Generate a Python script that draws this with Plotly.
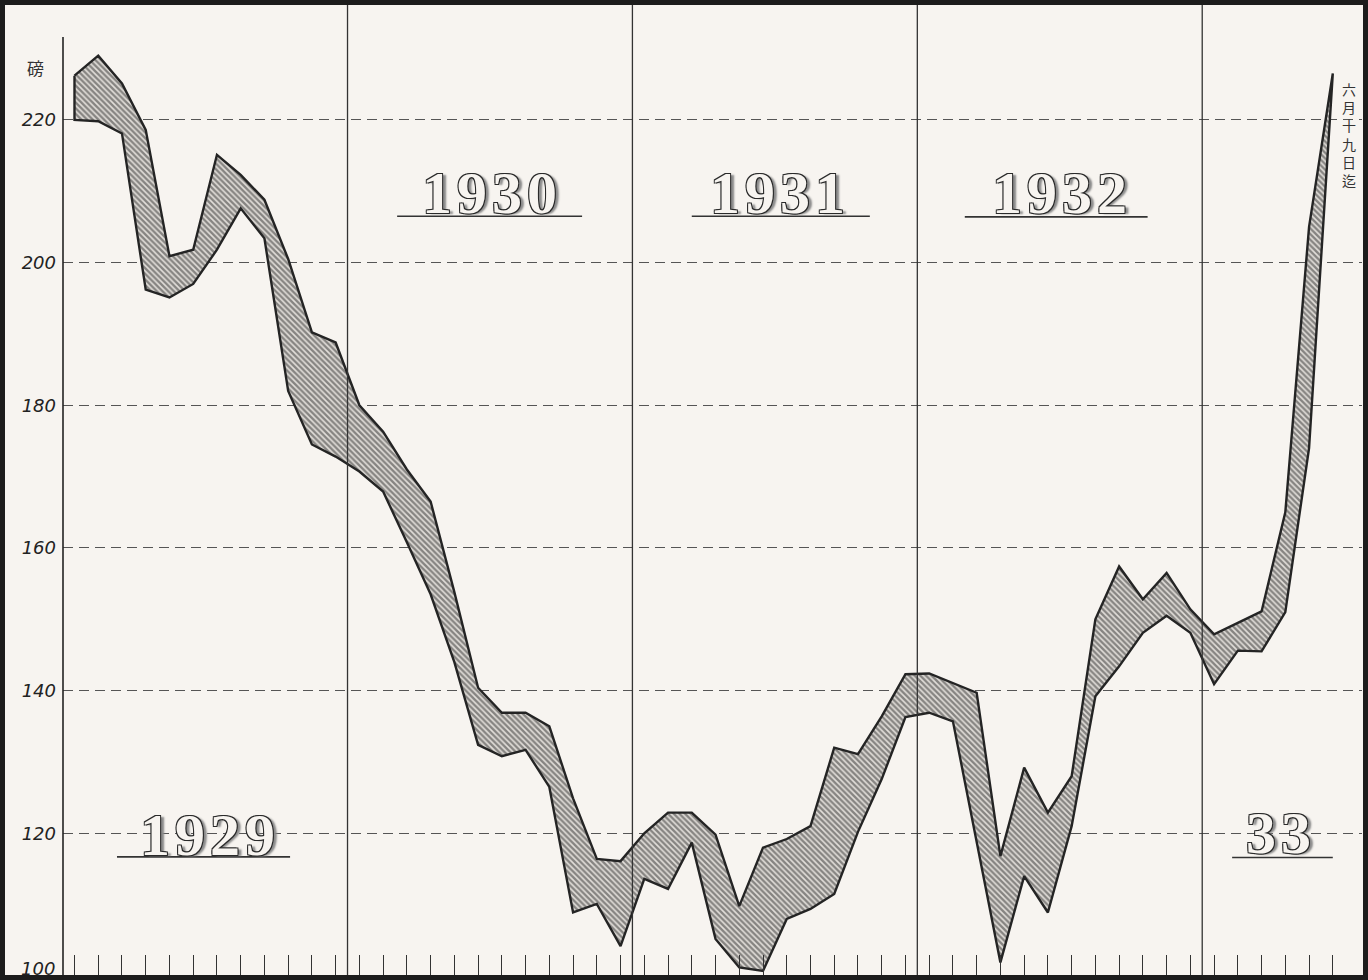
import plotly.graph_objects as go

# ---- data (monthly, Jan 1929 .. Jun 1933) ----
months = [f"{y}-{m:02d}" for y in (1929, 1930, 1931, 1932, 1933) for m in range(1, 13)][:54]

upper = [226.2, 229.0, 225.1, 218.6, 200.9, 201.8, 215.1, 212.3, 208.8, 200.5,
         190.2, 188.8, 180.0, 176.3, 171.0, 166.5, 153.8, 140.4, 136.9, 136.9,
         135.0, 124.9, 116.4, 116.1, 120.0, 122.9, 122.9, 119.8, 109.8, 118.0,
         119.2, 121.0, 132.0, 131.1, 136.4, 142.3, 142.4, 141.1, 139.7, 116.8,
         129.2, 122.9, 128.0, 150.0, 157.4, 152.8, 156.5, 151.4, 147.9, 149.5,
         151.1, 165.0, 205.0, 226.5]

lower = [220.0, 219.8, 218.1, 196.2, 195.1, 197.0, 201.8, 207.6, 203.4, 182.0,
         174.5, 172.8, 170.7, 167.9, 160.8, 153.5, 144.0, 132.4, 130.8, 131.7,
         126.5, 108.9, 110.1, 104.2, 113.6, 112.2, 118.7, 105.2, 101.2, 100.7,
         108.0, 109.4, 111.5, 120.2, 127.6, 136.3, 136.9, 135.7, 119.0, 101.9,
         114.0, 108.9, 121.0, 139.2, 143.4, 148.1, 150.5, 148.1, 140.9, 145.6,
         145.5, 151.0, 174.0, 226.5]

year_labels = ["1929", "1930", "1931", "1932", "33"]
y_ticks = [100, 120, 140, 160, 180, 200, 220]
unit_label = "磅"
end_note = "六月十九日迄"

# ---- figure ----
W, H = 1368, 980
ML, MR, MT, MB = 63, 6, 5, 4
BG = "#f7f4f0"

x = list(range(len(months)))
poly_x = x + x[::-1] + [x[0]]
poly_y = upper + lower[::-1] + [upper[0]]

fig = go.Figure()
fig.add_trace(go.Scatter(
    x=poly_x, y=poly_y, mode="lines", fill="toself",
    fillcolor="#dcd8d3",
    fillpattern=dict(shape="\\", fgcolor="#2a2a2a", bgcolor="#e2ded9",
                     size=4, solidity=0.6),
    line=dict(color="#242424", width=2.4),
    hoverinfo="skip", showlegend=False,
))

plot_w = W - ML - MR
plot_h = H - MT - MB


def px_to_paper_x(px):
    return (px - ML) / plot_w


def px_to_paper_y(py):
    return (H - MB - py) / plot_h


shapes = []
for xv in (11.5, 23.5, 35.5, 47.5):
    shapes.append(dict(type="line", xref="x", yref="paper", x0=xv, x1=xv, y0=0, y1=1,
                       line=dict(color="#333", width=1.3)))
shapes.append(dict(type="line", xref="paper", yref="y", x0=0, x1=0, y0=100, y1=231.6,
                   line=dict(color="#222", width=1.6)))
shapes.append(dict(type="rect", xref="paper", yref="paper",
                   x0=px_to_paper_x(2.5), x1=px_to_paper_x(W - 2.5),
                   y0=px_to_paper_y(H - 2.5), y1=px_to_paper_y(2.5),
                   line=dict(color="#1c1c1c", width=5)))
shapes.append(dict(type="line", xref="paper", yref="paper",
                   x0=px_to_paper_x(0), x1=px_to_paper_x(W),
                   y0=px_to_paper_y(976.5), y1=px_to_paper_y(976.5),
                   line=dict(color="#1c1c1c", width=3)))

label_pos = [(5.6, 119.8), (17.5, 209.8), (29.6, 209.8), (41.5, 209.7), (50.7, 120.0)]
underline_pos = [(1.79, 9.08, 116.7), (13.59, 21.38, 206.5), (26.0, 33.5, 206.5),
                 (37.5, 45.2, 206.4), (48.76, 53.0, 116.6)]
annotations = []
outline = ("-1px -1px 0 #2a2a2a, 1px -1px 0 #2a2a2a, -1px 1px 0 #2a2a2a, "
           "1px 1px 0 #2a2a2a, 4px 1px 2px #8a8a8a")
for lab, (lx, ly), (u0, u1, uy) in zip(year_labels, label_pos, underline_pos):
    annotations.append(dict(
        x=lx, y=ly, xref="x", yref="y", text="\u200a".join(lab), showarrow=False,
        xanchor="center", yanchor="middle",
        font=dict(family="Liberation Serif", size=60, color=BG, weight="bold",
                  shadow=outline),
    ))
    shapes.append(dict(type="line", xref="x", yref="y", x0=u0, x1=u1, y0=uy, y1=uy,
                       line=dict(color="#333", width=1.6)))

annotations.append(dict(
    x=px_to_paper_x(57), y=101.1, xref="paper", yref="y", text=str(y_ticks[0]),
    showarrow=False, xanchor="right", yanchor="middle",
    font=dict(family="DejaVu Sans", size=18, color="#222", style="italic"),
))
annotations.append(dict(
    x=px_to_paper_x(35), y=227.3, xref="paper", yref="y", text=unit_label,
    showarrow=False, xanchor="center", yanchor="middle",
    font=dict(family="Noto Sans CJK JP", size=17, color="#333"),
))
annotations.append(dict(
    x=53.7, y=217.9, xref="x", yref="y", text="<br>".join(end_note),
    showarrow=False, xanchor="center", yanchor="middle",
    font=dict(family="Noto Sans CJK JP", size=14, color="#333"),
))

fig.update_layout(
    width=W, height=H,
    margin=dict(l=ML, r=MR, t=MT, b=MB, pad=0),
    paper_bgcolor=BG, plot_bgcolor=BG,
    showlegend=False,
    shapes=shapes,
    annotations=annotations,
    xaxis=dict(range=[-0.484, 54.23], showgrid=False, zeroline=False, showline=False,
               ticks="inside", tickvals=x, ticklen=21, tickwidth=1.4, tickcolor="#333",
               showticklabels=False, fixedrange=True),
    yaxis=dict(range=[100, 236.1], tickvals=y_ticks[1:],
               ticktext=[str(v) for v in y_ticks[1:]],
               showgrid=True, gridcolor="#555", griddash="10px,6px", gridwidth=1,
               zeroline=False, showline=False, ticks="",
               tickfont=dict(family="DejaVu Sans", size=18, color="#222", style="italic"),
               ticklabelstandoff=6, fixedrange=True),
)

fig.write_html("out.html", post_script="document.body.style.margin='0';",
               config={"displayModeBar": False})
